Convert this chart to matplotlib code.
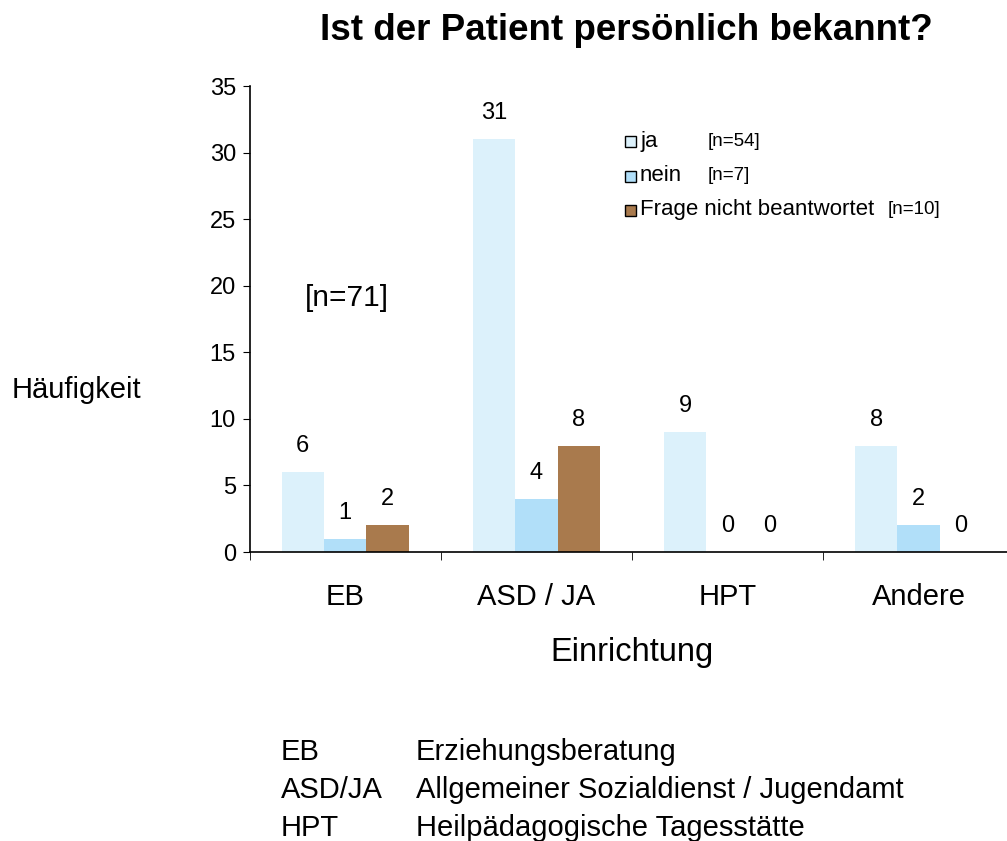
import matplotlib.pyplot as plt
import numpy as np
from matplotlib.patches import Rectangle

plt.rcParams['font.family'] = ['Liberation Sans', 'DejaVu Sans']

categories = ['EB', 'ASD / JA', 'HPT', 'Andere']
ja = [6, 31, 9, 8]
nein = [1, 4, 0, 2]
frage = [2, 8, 0, 0]
series_names = ['ja', 'nein', 'Frage nicht beantwortet']
series_n = ['[n=54]', '[n=7]', '[n=10]']
colors = ['#dcf1fb', '#b1dff9', '#a97a4d']

abk = ['EB', 'ASD/JA', 'HPT']
abk_text = ['Erziehungsberatung', 'Allgemeiner Sozialdienst / Jugendamt',
            'Heilpädagogische Tagesstätte']

W, H = 1007, 841
fig = plt.figure(figsize=(W / 100, H / 100), dpi=100)
ax = fig.add_axes([0.248, 0.3436, 0.759, 0.554])

x = np.arange(len(categories))
w = 0.222
for i, vals in enumerate([ja, nein, frage]):
    pos = x + (i - 1) * w
    ax.bar(pos, vals, width=w, color=colors[i], edgecolor='none', clip_on=False)
    for p, v in zip(pos, vals):
        ax.text(p, v + 1.95, str(v), ha='center', va='center', fontsize=17)

ax.set_xlim(-0.5, len(categories) - 0.5)
ax.set_ylim(0, 35)
ax.set_yticks(range(0, 36, 5))
ax.set_xticks(x)
ax.set_xticklabels(categories, fontsize=21)
ax.set_xticks(np.arange(-0.5, len(categories), 1), minor=True)
ax.tick_params(axis='x', which='major', length=0, pad=22)
ax.tick_params(axis='x', which='minor', length=6, direction='out')
ax.tick_params(axis='y', labelsize=17, length=5, pad=5)
for s in ['top', 'right']:
    ax.spines[s].set_visible(False)
for s in ['left', 'bottom']:
    ax.spines[s].set_linewidth(1.2)

ax.set_xlabel('Einrichtung', fontsize=23.5, labelpad=19)
fig.text(12 / W, 1 - 390 / H, 'Häufigkeit', fontsize=21, va='center', ha='left')
ax.text(0.072, 0.545, '[n=71]', transform=ax.transAxes, fontsize=21.5, va='center')

fig.suptitle('Ist der Patient persönlich bekannt?', x=0.622, y=1 - 30 / H,
             va='center', fontsize=26.5, fontweight='bold')

# legend drawn by hand
n_x = [708, 708, 888]
for i, (name, n, c) in enumerate(zip(series_names, series_n, colors)):
    yc = 141 + 34.5 * i
    fig.patches.append(Rectangle((625 / W, 1 - (yc + 6) / H), 11 / W, 11 / H,
                                 facecolor=c, edgecolor='black', linewidth=1,
                                 transform=fig.transFigure))
    fig.text(640 / W, 1 - yc / H, name, fontsize=16, va='center')
    fig.text(n_x[i] / W, 1 - yc / H, n, fontsize=13.5, va='center')

for i, (a, b) in enumerate(zip(abk, abk_text)):
    yy = 1 - (752 + i * 38) / H
    fig.text(281 / W, yy, a, fontsize=21, va='center')
    fig.text(416 / W, yy, b, fontsize=21, va='center')

fig.savefig('out.png', dpi=100)
